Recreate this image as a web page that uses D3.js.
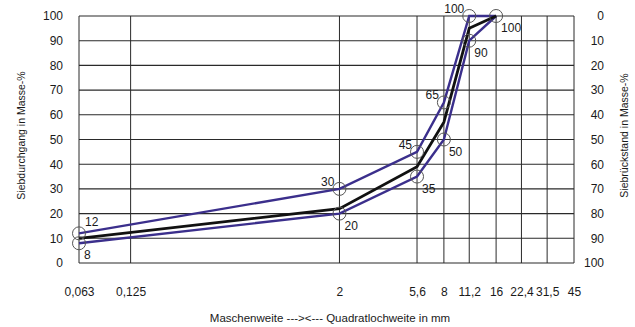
<!DOCTYPE html>
<html>
<head>
<meta charset="utf-8">
<script src="https://cdn.jsdelivr.net/npm/d3@7"></script>
<style>
  body { margin: 0; background: #fff; }
  text { font-family: "Liberation Sans", Arial, sans-serif; fill: #1a1a1a; }
</style>
</head>
<body>
<div id="chart"></div>
<script>
var sieves = [0.063, 0.125, 2, 5.6, 8, 11.2, 16, 22.4, 31.5, 45]
var sieveLabels = ['0,063', '0,125', '2', '5,6', '8', '11,2', '16', '22,4', '31,5', '45']
var yTicks = [0, 10, 20, 30, 40, 50, 60, 70, 80, 90, 100]

// grading curves (sieve size, passing %)
var curveSieves = [0.063, 2, 5.6, 8, 11.2, 16]
var upperCurve = [12, 30, 45, 65, 100, 100]
var lowerCurve = [8, 20, 35, 50, 90, 100]
var middleCurve = [10, 22, 39, 57, 95, 100]

// which points get a circle + value label
var upperMarked = [true, true, true, true, true, false]
var lowerMarked = [true, true, true, true, true, true]

var width = 635, height = 327
var margin = {top: 16, right: 61, bottom: 64, left: 79}

var x = d3.scaleLog()
  .domain([0.063, 45])
  .range([margin.left, width - margin.right])
var y = d3.scaleLinear()
  .domain([0, 100])
  .range([height - margin.bottom, margin.top])
var yRight = d3.scaleLinear()
  .domain([100, 0])
  .range([height - margin.bottom, margin.top])

var svg = d3.select('#chart').append('svg')
  .attr('width', width)
  .attr('height', height)

// grid
svg.append('g').selectAll('line')
  .data(yTicks)
  .enter().append('line')
  .attr('x1', margin.left).attr('x2', width - margin.right)
  .attr('y1', d => y(d)).attr('y2', d => y(d))
  .attr('stroke', '#2a2a2a').attr('stroke-width', 1.1)

svg.append('g').selectAll('line')
  .data(sieves)
  .enter().append('line')
  .attr('x1', d => x(d)).attr('x2', d => x(d))
  .attr('y1', y(0)).attr('y2', y(100))
  .attr('stroke', '#2a2a2a').attr('stroke-width', 1)

// axes (text only)
var leftAxis = d3.axisLeft(y).tickValues(yTicks).tickSize(0).tickPadding(16)
svg.append('g')
  .attr('transform', 'translate(' + margin.left + ',0)')
  .call(leftAxis)
  .call(g => g.select('.domain').remove())
  .selectAll('text').style('font-size', '12px').attr('fill', '#1a1a1a')

var rightAxis = d3.axisRight(yRight).tickValues(yTicks).tickSize(0).tickPadding(0)
svg.append('g')
  .attr('transform', 'translate(' + (width - margin.right) + ',0)')
  .call(rightAxis)
  .call(g => g.select('.domain').remove())
  .selectAll('text').style('font-size', '12px').attr('fill', '#1a1a1a')
  .attr('text-anchor', 'end').attr('x', 30)

var bottomAxis = d3.axisBottom(x).tickValues(sieves)
  .tickFormat((d, i) => sieveLabels[i]).tickSize(0).tickPadding(24)
svg.append('g')
  .attr('transform', 'translate(0,' + y(0) + ')')
  .call(bottomAxis)
  .call(g => g.select('.domain').remove())
  .selectAll('text').style('font-size', '12px').attr('fill', '#1a1a1a')

// axis titles
svg.append('text')
  .attr('transform', 'translate(25,' + (y(50) - 4) + ') rotate(-90)')
  .attr('text-anchor', 'middle')
  .style('font-size', '10.5px')
  .text('Siebdurchgang in Masse-%')

svg.append('text')
  .attr('transform', 'translate(628,' + (y(50) - 4) + ') rotate(-90)')
  .attr('text-anchor', 'middle')
  .style('font-size', '10.5px')
  .text('Siebrückstand in Masse-%')

svg.append('text')
  .attr('x', 330).attr('y', 322)
  .attr('text-anchor', 'middle')
  .style('font-size', '11.5px')
  .text('Maschenweite ---><--- Quadratlochweite in mm')

// curves
var line = d3.line()
  .x((d, i) => x(curveSieves[i]))
  .y(d => y(d))

svg.append('path').datum(upperCurve)
  .attr('d', line).attr('fill', 'none')
  .attr('stroke', '#3b2f8c').attr('stroke-width', 2.4)
svg.append('path').datum(lowerCurve)
  .attr('d', line).attr('fill', 'none')
  .attr('stroke', '#3b2f8c').attr('stroke-width', 2.4)
svg.append('path').datum(middleCurve)
  .attr('d', line).attr('fill', 'none')
  .attr('stroke', '#111').attr('stroke-width', 2.8)

function markPoints(values, marked, upper) {
  var pts = values.map((v, i) => ({v: v, s: curveSieves[i], i: i})).filter(p => marked[p.i])
  svg.append('g').selectAll('circle')
    .data(pts).enter().append('circle')
    .attr('cx', d => x(d.s)).attr('cy', d => y(d.v))
    .attr('r', 6.5)
    .attr('fill', 'none').attr('stroke', '#555').attr('stroke-width', 1)
  svg.append('g').selectAll('text')
    .data(pts).enter().append('text')
    .attr('x', d => {
      if (upper) return d.i === 0 ? x(d.s) + 6 : x(d.s) - 5
      return x(d.s) + 5
    })
    .attr('y', d => {
      if (upper) return d.i === 0 ? y(d.v) - 7 : y(d.v) - 3
      return y(d.v) + 16
    })
    .attr('text-anchor', d => (upper && d.i !== 0) ? 'end' : 'start')
    .style('font-size', '12px')
    .text(d => d.v)
}

markPoints(upperCurve, upperMarked, true)
markPoints(lowerCurve, lowerMarked, false)
</script>
</body>
</html>
